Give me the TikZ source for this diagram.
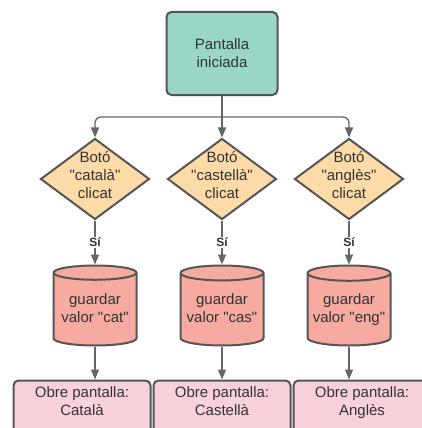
\documentclass[tikz,border=0pt]{standalone}
\usepackage{fontspec}
\setmainfont{Liberation Sans}
\usetikzlibrary{shapes.geometric, arrows.meta, positioning}
\definecolor{screenfill}{HTML}{9AD6C8}
\definecolor{buttonfill}{HTML}{FDDBA8}
\definecolor{storefill}{HTML}{F6AAA0}
\definecolor{openfill}{HTML}{F8D1DB}
\definecolor{edgegray}{HTML}{555555}
\definecolor{linegray}{HTML}{666666}
\definecolor{textgray}{HTML}{333333}
\newcommand{\quoted}[1]{\textquotedbl#1\textquotedbl}
\tikzset{
    startscreen/.style={rectangle, rounded corners=5pt, minimum width=111pt, minimum height=83pt, align=center, draw=edgegray, line width=2pt, fill=screenfill},
    button/.style={diamond, minimum width=109pt, minimum height=81pt, inner xsep=-10pt, inner ysep=-16pt, text depth=8pt, align=center, draw=edgegray, line width=2pt, fill=buttonfill},
    store/.style={cylinder, shape border rotate=90, aspect=0.2, minimum width=83pt, minimum height=80pt, inner sep=2pt, text depth=6pt, align=center, draw=edgegray, line width=2pt, fill=storefill},
    openscreen/.style={rectangle, rounded corners=5pt, minimum width=137pt, minimum height=58pt, text depth=16pt, align=center, draw=edgegray, line width=2pt, fill=openfill},
    arrow/.style={line width=1.3pt, draw=linegray, ->, >={Triangle[width=8pt,length=10pt]}},
    yes/.style={fill=white, inner sep=1pt, font=\fontsize{12}{14}\selectfont\bfseries}
}

\begin{document}
\begin{tikzpicture}[x=1pt, y=1pt, font=\fontsize{15}{18}\selectfont, text=textgray]
    \useasboundingbox (0,0) rectangle (422,-428);
    \clip (0,0) rectangle (422,-428);

    % Start screen
    \node (start) [startscreen] at (222,-53.5) {Pantalla\\iniciada};

    % Buttons
    \node (btnB) [button, below=41.5pt of start] {Botó\\\quoted{castellà}\\clicat};
    \node (btnA) [button, left=16pt of btnB] {Botó\\\quoted{català}\\clicat};
    \node (btnC) [button, right=16pt of btnB] {Botó\\\quoted{anglès}\\clicat};

    \coordinate (split) at ([yshift=-21pt]start.south);
    \draw [line width=1.3pt, draw=linegray] (start) -- (split);
    \draw [arrow, rounded corners=6pt] (split) -| (btnA);
    \draw [arrow] (split) -- (btnB);
    \draw [arrow, rounded corners=6pt] (split) -| (btnC);

    % Stored values
    \node (valA) [store, below=44pt of btnA] {guardar\\valor \quoted{cat}};
    \node (valB) [store, below=44pt of btnB] {guardar\\valor \quoted{cas}};
    \node (valC) [store, below=44pt of btnC] {guardar\\valor \quoted{eng}};

    \draw [arrow] (btnA) -- node [yes] {Sí} (valA);
    \draw [arrow] (btnB) -- node [yes] {Sí} (valB);
    \draw [arrow] (btnC) -- node [yes] {Sí} (valC);

    % Screens to open
    \node (openB) [openscreen, below=33pt of valB] {Obre pantalla:\\Castellà};
    \node (openA) [openscreen, left=1pt of openB] {Obre pantalla:\\Català};
    \node (openC) [openscreen, right=1pt of openB] {Obre pantalla:\\Anglès};

    \draw [arrow] (valA) -- (valA |- openA.north);
    \draw [arrow] (valB) -- (openB);
    \draw [arrow] (valC) -- (valC |- openC.north);
\end{tikzpicture}
\end{document}
